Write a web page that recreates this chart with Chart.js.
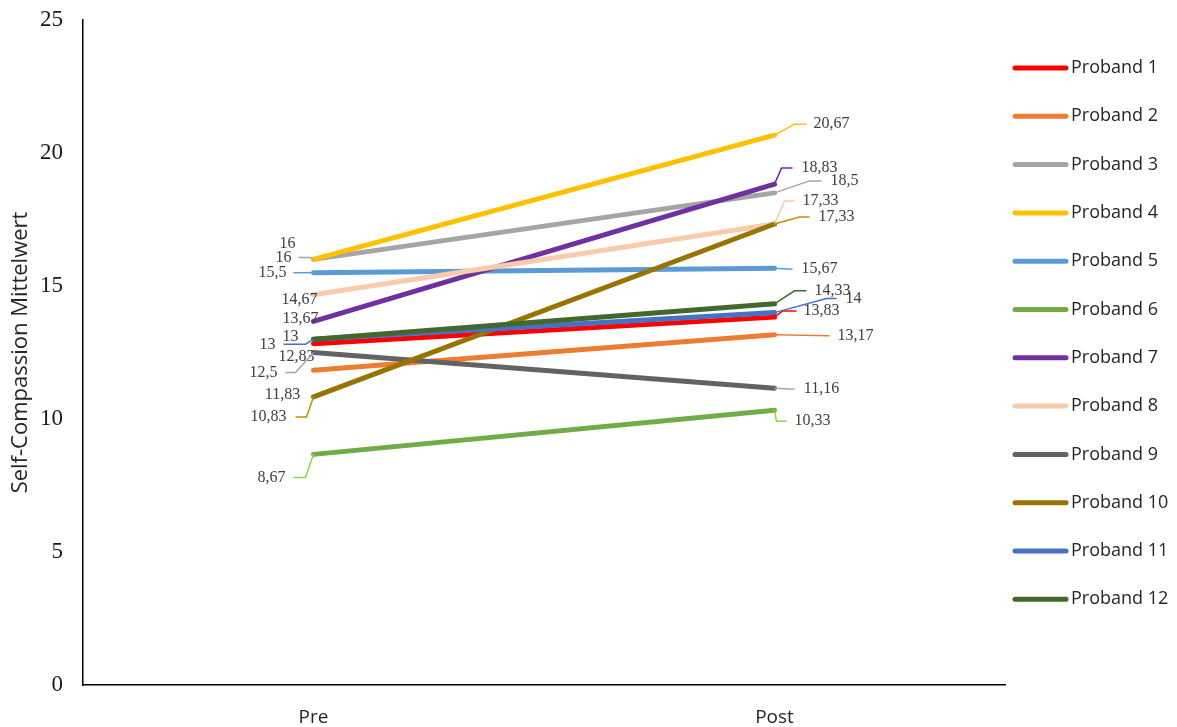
<!DOCTYPE html>
<html>
<head>
<meta charset="utf-8">
<style>
  html, body { margin: 0; padding: 0; background: #ffffff; }
  canvas { display: block; }
</style>
<script src="https://cdn.jsdelivr.net/npm/chart.js@4/dist/chart.umd.min.js"></script>
</head>
<body>
<canvas id="chart" width="1177" height="727"></canvas>
<script>
// Measurement points on the x axis
const categories = ['Pre', 'Post'];

// Participants
const probandNames = [
  'Proband 1', 'Proband 2', 'Proband 3', 'Proband 4', 'Proband 5', 'Proband 6',
  'Proband 7', 'Proband 8', 'Proband 9', 'Proband 10', 'Proband 11', 'Proband 12'
];

// Mean self-compassion score per participant
const preValues  = [12.83, 11.83, 16, 16, 15.5, 8.67, 13.67, 14.67, 12.5, 10.83, 13, 13];
const postValues = [13.83, 13.17, 18.5, 20.67, 15.67, 10.33, 18.83, 17.33, 11.16, 17.33, 14, 14.33];

// Value axis
const yTicks = [0, 5, 10, 15, 20, 25];

const seriesColors = [
  '#FF0000', '#ED7D31', '#A5A5A5', '#FFC000', '#5B9BD5', '#70AD47',
  '#7030A0', '#F8CBAD', '#636363', '#997300', '#4472C4', '#43682B'
];
// Leader lines use slightly lighter tints of a few series colours
const leaderColors = [
  '#FF0000', '#ED7D31', '#A5A5A5', '#FFC000', '#5B9BD5', '#92D050',
  '#7030A0', '#F8CBAD', '#A5A5A5', '#BF9000', '#4472C4', '#43682B'
];

// Value-label placement: text offset from the point and an optional leader polyline (pixels)
const preLabelLayout = [
  { text: [-17, 13] },
  { text: [-31, 24] },
  { text: [-30, -2], leader: [[0, 0], [-4, -2], [-15, -2]] },
  { text: [-26, -16] },
  { text: [-41, 0], leader: [[0, 0], [-20, 0]] },
  { text: [-42, 23], leader: [[0, 0], [-8, 23], [-20, 23]] },
  { text: [-13, -3] },
  { text: [-14, 5] },
  { text: [-50, 20], leader: [[0, 0], [-18, 20], [-28, 20]] },
  { text: [-45, 20], leader: [[0, 0], [-7, 20], [-18, 20]] },
  { text: [-46, 6], leader: [[0, 0], [-8, 5], [-30, 5]] },
  { text: [-23, -2] }
];
const postLabelLayout = [
  { text: [47, -6], leader: [[0, 0], [8, -6], [22, -6]] },
  { text: [81, 1], leader: [[0, 0], [55, 1]] },
  { text: [70, -12], leader: [[0, 0], [35, -12], [47, -12]] },
  { text: [57, -11], leader: [[0, 0], [20, -11], [32, -11]] },
  { text: [45, 1], leader: [[0, 0], [18, 1]] },
  { text: [38, 11], leader: [[0, 0], [2, 11], [12, 11]] },
  { text: [45, -16], leader: [[0, 0], [7, -16], [18, -16]] },
  { text: [46, -23], leader: [[0, 0], [10, -23], [20, -23]] },
  { text: [47, 1], leader: [[0, 0], [20, 1]] },
  { text: [62, -7], leader: [[0, 0], [25, -7], [35, -7]] },
  { text: [79, -14], leader: [[0, 0], [52, -14], [62, -14]] },
  { text: [58, -13], leader: [[0, 0], [20, -13], [32, -13]] }
];

const fmt = v => String(v).replace('.', ',');

const datasets = probandNames.map((name, i) => ({
  label: name,
  data: [preValues[i], postValues[i]],
  borderColor: seriesColors[i],
  backgroundColor: seriesColors[i],
  borderWidth: 5,
  borderCapStyle: 'round',
  borderJoinStyle: 'round',
  pointRadius: 0,
  pointHoverRadius: 0,
  fill: false,
  tension: 0,
  order: probandNames.length - i
}));

// Value labels with leader lines
const valueLabels = {
  id: 'valueLabels',
  afterDatasetsDraw(chart) {
    const ctx = chart.ctx;
    ctx.save();
    ctx.font = '16px "Liberation Serif", "Times New Roman", serif';
    ctx.textAlign = 'center';
    ctx.textBaseline = 'middle';
    chart.data.datasets.forEach((ds, i) => {
      const meta = chart.getDatasetMeta(i);
      [preLabelLayout, postLabelLayout].forEach((layout, k) => {
        const pt = meta.data[k];
        const lay = layout[i];
        if (lay.leader) {
          ctx.beginPath();
          ctx.strokeStyle = leaderColors[i];
          ctx.lineWidth = 1.5;
          lay.leader.forEach(([dx, dy], j) => {
            if (j === 0) ctx.moveTo(pt.x + dx, pt.y + dy);
            else ctx.lineTo(pt.x + dx, pt.y + dy);
          });
          ctx.stroke();
        }
        ctx.fillStyle = '#404040';
        ctx.fillText(fmt(ds.data[k]), pt.x + lay.text[0], pt.y + lay.text[1]);
      });
    });
    ctx.restore();
  }
};

// Legend drawn at the right of the plot area
const sideLegend = {
  id: 'sideLegend',
  afterDraw(chart) {
    const ctx = chart.ctx;
    const area = chart.chartArea;
    const x0 = area.right + 8;
    const y0 = area.top + 48;
    const step = 48.3;
    ctx.save();
    ctx.font = '18px "Open Sans", sans-serif';
    ctx.textAlign = 'left';
    ctx.textBaseline = 'middle';
    chart.data.datasets.forEach((ds, i) => {
      const y = y0 + i * step;
      ctx.beginPath();
      ctx.strokeStyle = ds.borderColor;
      ctx.lineWidth = 5;
      ctx.lineCap = 'round';
      ctx.moveTo(x0 + 2, y);
      ctx.lineTo(x0 + 53, y);
      ctx.stroke();
      ctx.fillStyle = '#262626';
      ctx.fillText(ds.label, x0 + 58, y);
    });
    ctx.restore();
  }
};

new Chart(document.getElementById('chart'), {
  type: 'line',
  data: { labels: categories, datasets },
  options: {
    responsive: false,
    animation: false,
    devicePixelRatio: 1,
    layout: { padding: { left: 0, top: 20, right: 172, bottom: 0 } },
    plugins: {
      legend: { display: false },
      tooltip: { enabled: false }
    },
    scales: {
      x: {
        type: 'category',
        offset: true,
        grid: { display: false, drawTicks: false },
        border: { display: true, color: '#000000', width: 1.5 },
        ticks: {
          padding: 21,
          color: '#262626',
          font: { family: '"Open Sans", sans-serif', size: 19 }
        },
        afterFit(scale) { scale.height = 42; }
      },
      y: {
        min: yTicks[0],
        max: yTicks[yTicks.length - 1],
        afterBuildTicks(scale) { scale.ticks = yTicks.map(v => ({ value: v })); },
        grid: { display: false, drawTicks: false },
        border: { display: true, color: '#000000', width: 1.5 },
        ticks: {
          padding: 20,
          color: '#1a1a1a',
          font: { family: '"Liberation Serif", "Times New Roman", serif', size: 23 }
        },
        title: {
          display: true,
          text: 'Self-Compassion Mittelwert',
          color: '#262626',
          font: { family: '"Open Sans", sans-serif', size: 22 },
          padding: { top: 8, bottom: 0 }
        },
        afterFit(scale) {
          scale.width = 83;
          scale.paddingTop = 0;
          scale.paddingBottom = 0;
        }
      }
    }
  },
  plugins: [valueLabels, sideLegend]
});
</script>
</body>
</html>
